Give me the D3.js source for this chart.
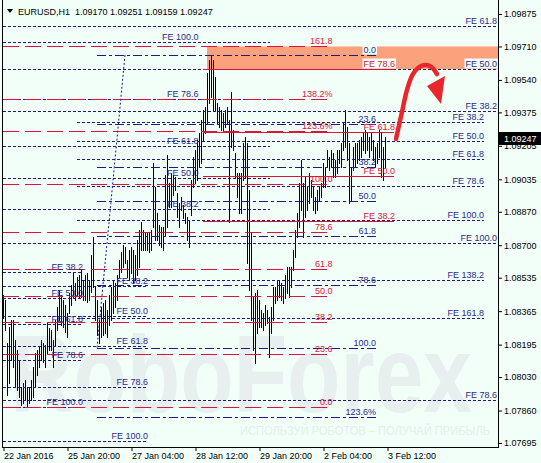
<!DOCTYPE html>
<html><head><meta charset="utf-8">
<script src="https://cdn.jsdelivr.net/npm/d3@7"></script>
<style>
html,body{margin:0;padding:0;background:#f2fff8;}
svg{display:block;font-family:"Liberation Sans",Arial,sans-serif;}
</style></head><body>
<svg id="c" width="541" height="463"></svg>
<script>
// ---------------- DATA ----------------
const symbol = "EURUSD,H1";
const headerPrices = ["1.09170", "1.09251", "1.09159", "1.09247"];
const lastPrice = 1.09247;
const timeTickBars = [0, 32, 64, 96, 128, 160, 192];
const timeLabels = ["22 Jan 2016", "25 Jan 20:00", "27 Jan 04:00", "28 Jan 12:00", "29 Jan 20:00", "2 Feb 04:00", "3 Feb 12:00"];
const priceTicks = [1.09875, 1.09710, 1.09540, 1.09375, 1.09205, 1.09035, 1.08870, 1.08700, 1.08535, 1.08365, 1.08195, 1.08030, 1.07860, 1.07695];

const highs = [
1.08447,1.08422,1.08204,1.08285,1.08320,1.08320,1.08219,1.08168,1.08117,1.07980,
1.08000,1.08016,1.07980,1.07975,1.08016,1.08082,1.08153,1.08168,1.08183,1.08219,
1.08204,1.08193,1.08305,1.08280,1.08270,1.08219,1.08320,1.08386,1.08473,1.08447,
1.08422,1.08397,1.08356,1.08458,1.08498,1.08559,1.08508,1.08539,1.08549,1.08574,
1.08524,1.08549,1.08559,1.08524,1.08651,1.08742,1.08488,1.08422,1.08320,1.08386,
1.08407,1.08422,1.08371,1.08447,1.08488,1.08524,1.08508,1.08549,1.08625,1.08666,
1.08701,1.08691,1.08625,1.08676,1.08691,1.08676,1.08651,1.08727,1.08778,1.08818,
1.08778,1.08762,1.08762,1.08767,1.08778,1.09118,1.08996,1.08864,1.08803,1.08793,
1.08793,1.09057,1.09159,1.09016,1.09067,1.09057,1.09047,1.08966,1.08915,1.08945,
1.08905,1.08864,1.08844,1.08828,1.09032,1.09148,1.09184,1.09235,1.09270,1.09336,
1.09387,1.09402,1.09575,1.09641,1.09667,1.09641,1.09555,1.09423,1.09402,1.09387,
1.09372,1.09387,1.09402,1.09336,1.09479,1.09286,1.09169,1.09067,1.09067,1.09067,
1.09220,1.09250,1.09220,1.08981,1.08762,1.08437,1.08458,1.08473,1.08422,1.08371,
1.08356,1.08397,1.08371,1.08336,1.08386,1.08488,1.08488,1.08524,1.08524,1.08508,
1.08488,1.08549,1.08590,1.08590,1.08590,1.08676,1.08778,1.08864,1.09016,1.09133,
1.09016,1.09047,1.08996,1.09067,1.09032,1.08996,1.08945,1.08981,1.08996,1.09016,
1.09118,1.09098,1.09184,1.09148,1.09184,1.09169,1.09133,1.09184,1.09184,1.09220,
1.09321,1.09387,1.09301,1.09220,1.09098,1.09199,1.09220,1.09220,1.09235,1.09250,
1.09270,1.09286,1.09270,1.09250,1.09270,1.09235,1.09199,1.09220,1.09286,1.09270,
1.09199,1.09250];
const lows = [
1.08331,1.08270,1.07939,1.08000,1.08117,1.08082,1.07980,1.07965,1.07929,1.07889,
1.07899,1.07914,1.07878,1.07899,1.07914,1.07929,1.07980,1.08041,1.08082,1.08117,
1.08107,1.08082,1.08153,1.08168,1.08168,1.08082,1.08193,1.08270,1.08320,1.08295,
1.08285,1.08259,1.08234,1.08356,1.08397,1.08437,1.08422,1.08447,1.08432,1.08437,
1.08422,1.08422,1.08412,1.08422,1.08463,1.08488,1.08320,1.08244,1.08204,1.08234,
1.08244,1.08254,1.08234,1.08295,1.08320,1.08356,1.08386,1.08422,1.08539,1.08564,
1.08590,1.08610,1.08539,1.08524,1.08559,1.08508,1.08524,1.08549,1.08590,1.08676,
1.08676,1.08676,1.08676,1.08666,1.08676,1.08793,1.08727,1.08727,1.08701,1.08691,
1.08676,1.08752,1.08793,1.08894,1.08894,1.08955,1.08981,1.08844,1.08793,1.08879,
1.08839,1.08813,1.08727,1.08691,1.08854,1.08996,1.09016,1.09032,1.09098,1.09118,
1.09235,1.09270,1.09321,1.09423,1.09453,1.09387,1.09387,1.09321,1.09301,1.09286,
1.09275,1.09301,1.09321,1.08818,1.09199,1.09184,1.09047,1.08945,1.08864,1.08864,
1.09032,1.09047,1.08610,1.08473,1.08320,1.08168,1.08102,1.08254,1.08285,1.08285,
1.08270,1.08295,1.08305,1.08132,1.08254,1.08320,1.08407,1.08422,1.08437,1.08422,
1.08407,1.08432,1.08458,1.08437,1.08488,1.08574,1.08640,1.08742,1.08793,1.08879,
1.08742,1.08844,1.08879,1.08915,1.08945,1.08879,1.08864,1.08879,1.08930,1.08945,
1.08996,1.08996,1.09098,1.09082,1.09098,1.09047,1.09047,1.09067,1.09118,1.09098,
1.09184,1.09199,1.09133,1.08915,1.08930,1.09082,1.09098,1.09118,1.09133,1.09148,
1.09184,1.09169,1.09184,1.09148,1.09184,1.09133,1.09098,1.09118,1.09148,1.09047,
1.09032,1.09098];

// Fibonacci retracement (navy dash-dot): anchors [barIndex, price]
const fiboRetAnchorA = [60.75, 1.09667];
const fiboRetAnchorB = [46.75, 1.08178];
const fiboRetSpan = [46.75, 186.25];
const fiboRetLevels = [0, 23.6, 38.2, 50, 61.8, 78.6, 100, 123.6];
const fiboRetLabels = ["0.0", "23.6", "38.2", "50.0", "61.8", "78.6", "100.0", "123.6%"];

// Fibonacci expansion (red long dash)
const fiboExpPrice0 = 1.07878;
const fiboExpPrice100 = 1.09011;
const fiboExpSpan = [-3, 164.25];
const fiboExpLevels = [0, 23.6, 38.2, 50, 61.8, 78.6, 100, 123.6, 138.2, 161.8];
const fiboExpLabels = ["0.0", "23.6", "38.2", "50.0", "61.8", "78.6", "100.0", "123.6%", "138.2%", "161.8"];

// FE level sets: [label, price]; spans [fromBar, toBar, labelBar]
const feWide = [["FE 61.8", 1.09814], ["FE 50.0", 1.09595], ["FE 38.2", 1.09382], ["FE 100.0", 1.08712], ["FE 78.6", 1.07914]];
const feWideSpan = [-3, 260, 246.75];
const feRight = [["FE 38.2", 1.09326], ["FE 50.0", 1.09230], ["FE 61.8", 1.09138], ["FE 78.6", 1.09001], ["FE 100.0", 1.08828], ["FE 138.2", 1.08524], ["FE 161.8", 1.08331]];
const feRightSpan = [36.75, 240.25, 240.25];
const feUpper = [["FE 100.0", 1.09733], ["FE 78.6", 1.09443], ["FE 61.8", 1.09204], ["FE 50.0", 1.09042], ["FE 38.2", 1.08884]];
const feUpperSpan = [-3, 133.25, 97.5];
const feLeft = [["FE 38.2", 1.08564], ["FE 50.0", 1.08432], ["FE 61.8", 1.08300], ["FE 78.6", 1.08117], ["FE 100.0", 1.07878]];
const feLeftSpan = [-3, 39.75, 39.75];
const feMid = [["FE 38.2", 1.08493], ["FE 50.0", 1.08341], ["FE 61.8", 1.08188], ["FE 78.6", 1.07980], ["FE 100.0", 1.07706]];
const feMidSpan = [-3, 72.25, 72.25];
const feRed = [["FE 78.6", 1.09595], ["FE 61.8", 1.09275], ["FE 50.0", 1.09052], ["FE 38.2", 1.08823]];
const feRedSpan = [99.75, 195.25, 195.75];

// Target zone
const zoneBars = [101.75, 260];
const zonePrices = [1.09710, 1.09595];

// Forecast arrow: [barIndex, price]
const arrowPath = [[196.25, 1.09240], [199.25, 1.09377], [201.75, 1.09489], [204.75, 1.09570], [208.75, 1.09611], [213.25, 1.09611], [216.75, 1.09570]];
const arrowHead = [[211.75, 1.09509], [220.75, 1.09560], [218.75, 1.09418]];

// ---------------- DRAW ----------------
const W = 541, H = 463;
const BG = "#f2fff8", NAVY = "#1b1b80", NAVYTXT = "#2a2a8a", RED = "#dc143c";
const svg = d3.select("#c");
const x = d3.scaleLinear().domain([0, 192]).range([3.5, 387.5]);
const y = d3.scaleLinear().domain([1.07695, 1.09875]).range([443, 14]);
const PL = 3, PR = 498, PB = 447;
const X = i => Math.max(PL, Math.min(PR, x(i)));
const Y = p => Math.round(y(p)) + 0.5;

svg.append("rect").attr("width", W).attr("height", H).attr("fill", BG);
svg.append("defs").append("clipPath").attr("id", "pc")
  .append("rect").attr("x", PL).attr("y", 0).attr("width", PR - PL).attr("height", PB);
const g = svg.append("g").attr("clip-path", "url(#pc)");

// watermark
g.append("text").attr("x", 10).attr("y", 412).attr("font-size", 110).attr("font-weight", "bold")
  .attr("fill", "#e7f0ef").attr("textLength", 462).attr("lengthAdjust", "spacingAndGlyphs").text("RoboForex");
g.append("text").attr("x", 240).attr("y", 435).attr("font-size", 13)
  .attr("fill", "#e4eeed").attr("textLength", 250).attr("lengthAdjust", "spacingAndGlyphs")
  .text("ИСПОЛЬЗУЙ РОБОТОВ – ПОЛУЧАЙ ПРИБЫЛЬ");

// zone
g.append("rect").attr("x", X(zoneBars[0])).attr("y", y(zonePrices[0]))
  .attr("width", X(zoneBars[1]) - X(zoneBars[0])).attr("height", y(zonePrices[1]) - y(zonePrices[0]))
  .attr("fill", "#fba27d");

// bars
g.append("g").selectAll("line").data(highs).join("line")
  .attr("x1", (d, i) => x(i)).attr("x2", (d, i) => x(i))
  .attr("y1", d => Math.round(y(d))).attr("y2", (d, i) => Math.round(y(lows[i])) + 1)
  .attr("stroke", "#000").attr("stroke-width", 1);

const lineG = g.append("g").attr("shape-rendering", "crispEdges");
const labels = [];
function hline(price, from, to, color, dash) {
  lineG.append("line").attr("x1", X(from)).attr("x2", X(to)).attr("y1", Y(price)).attr("y2", Y(price))
    .attr("stroke", color).attr("stroke-width", 1).attr("stroke-dasharray", dash);
}
function addLabel(text, price, at, color) {
  labels.push({text, price, at, color});
}

// navy FE sets
[[feWide, feWideSpan], [feRight, feRightSpan], [feUpper, feUpperSpan], [feLeft, feLeftSpan], [feMid, feMidSpan]].forEach(([set, span]) => {
  set.forEach(([lab, p]) => {
    hline(p, span[0], span[1], NAVY, "3,2");
    addLabel(lab, p, span[2], NAVYTXT);
  });
});

// fibo retracement
const rp0 = fiboRetAnchorA[1], rp100 = fiboRetAnchorB[1];
fiboRetLevels.forEach((L, k) => {
  const p = rp0 + (rp100 - rp0) * L / 100;
  hline(p, fiboRetSpan[0], fiboRetSpan[1], NAVY, "9,3,3,3");
  addLabel(fiboRetLabels[k], p, fiboRetSpan[1], NAVYTXT);
});
g.append("line").attr("x1", x(fiboRetAnchorA[0])).attr("y1", y(fiboRetAnchorA[1]))
  .attr("x2", x(fiboRetAnchorB[0])).attr("y2", y(fiboRetAnchorB[1]))
  .attr("stroke", NAVY).attr("stroke-width", 1).attr("stroke-dasharray", "2,2");

// fibo expansion red dashed
fiboExpLevels.forEach((L, k) => {
  const p = fiboExpPrice0 + (fiboExpPrice100 - fiboExpPrice0) * L / 100;
  hline(p, fiboExpSpan[0], fiboExpSpan[1], RED, "16,6");
  addLabel(fiboExpLabels[k], p, fiboExpSpan[1] + 0.25, RED);
});

// red solid FE
feRed.forEach(([lab, p]) => {
  hline(p, feRedSpan[0], feRedSpan[1], RED, null);
  addLabel(lab, p, feRedSpan[2], RED);
});

// labels
const labG = g.append("g").attr("font-size", 9);
const zx0 = X(zoneBars[0]), zx1 = X(zoneBars[1]), zy0 = y(zonePrices[0]), zy1 = y(zonePrices[1]);
labels.forEach(l => {
  const t = labG.append("text").attr("x", X(l.at)).attr("y", Y(l.price) - 3)
    .attr("text-anchor", "end").attr("fill", l.color).text(l.text);
  const b = t.node().getBBox();
  if (b.x + b.width > zx0 && b.x < zx1 && b.y + b.height > zy0 && b.y < zy1) {
    labG.insert("rect", () => t.node()).attr("x", b.x - 1).attr("y", b.y).attr("width", b.width + 2)
      .attr("height", b.height).attr("fill", BG);
  }
});

// arrow
const ap = arrowPath.map(d => [x(d[0]), y(d[1])]);
g.append("path").attr("d", d3.line().curve(d3.curveCatmullRom)(ap))
  .attr("fill", "none").attr("stroke", "#e8262b").attr("stroke-width", 4.5).attr("stroke-linecap", "round");
g.append("path").attr("d", d3.line()(arrowHead.map(d => [x(d[0]), y(d[1])])) + "Z").attr("fill", "#e8262b");

// frame
svg.append("line").attr("x1", 2.5).attr("x2", 2.5).attr("y1", 0).attr("y2", PB + 0.5).attr("stroke", "#000");
svg.append("line").attr("x1", PR + 0.5).attr("x2", PR + 0.5).attr("y1", 0).attr("y2", PB + 0.5).attr("stroke", "#000");
svg.append("line").attr("x1", 2).attr("x2", PR + 1).attr("y1", PB + 0.5).attr("y2", PB + 0.5).attr("stroke", "#000");

// axes
const ay = svg.append("g").attr("transform", `translate(${PR},0)`)
  .call(d3.axisRight(y).tickValues(priceTicks).tickSize(4).tickPadding(2).tickFormat(d => d.toFixed(5)));
ay.select(".domain").remove();
ay.attr("font-size", 9).attr("font-family", "Liberation Sans, Arial, sans-serif");
ay.selectAll("text").attr("fill", "#000");

const ax = svg.append("g").attr("transform", `translate(0,${PB})`)
  .call(d3.axisBottom(x).tickValues(timeTickBars).tickSize(4).tickPadding(2).tickFormat((d, i) => timeLabels[i]));
ax.select(".domain").remove();
ax.attr("font-size", 9).attr("font-family", "Liberation Sans, Arial, sans-serif");
ax.selectAll("text").attr("text-anchor", "start").attr("fill", "#000");

// current price box
const ly = y(lastPrice);
svg.append("rect").attr("x", PR + 1).attr("y", Math.round(ly) - 6).attr("width", W - PR - 1).attr("height", 13).attr("fill", "#000");
svg.append("text").attr("x", PR + 6).attr("y", Math.round(ly) + 3.5).attr("font-size", 9).attr("fill", "#fff").text(lastPrice.toFixed(5));

// header
svg.append("path").attr("d", "M7,9L13,9L10,13Z").attr("fill", "#000");
svg.append("text").attr("x", 18).attr("y", 14.5).attr("font-size", 9).attr("fill", "#000")
  .attr("xml:space", "preserve").text(symbol + "  " + headerPrices.join(" "));
</script>
</body></html>
